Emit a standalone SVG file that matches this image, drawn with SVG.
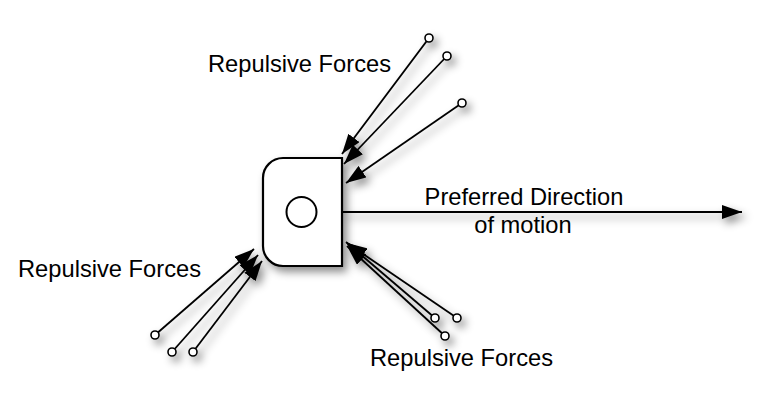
<svg xmlns="http://www.w3.org/2000/svg" width="764" height="404" viewBox="0 0 764 404">
<style>
.lbl{font-family:"Liberation Sans",Arial,sans-serif;font-size:23.7px;fill:#000}
.conn{stroke:#000;stroke-width:1.8;fill:none;marker-end:url(#ah)}
.end{fill:#fff;stroke:#000;stroke-width:1.6}
.box{fill:#fff;stroke:#000;stroke-width:2.2}
</style>
<defs>
<marker id="ah" viewBox="0 0 20 14" refX="20" refY="7" markerWidth="20" markerHeight="14" markerUnits="userSpaceOnUse" orient="auto">
<path d="M0,0 L20,7 L0,14 Z" fill="#000"/>
</marker>
<filter id="sh" x="-20%" y="-20%" width="150%" height="150%">
<feDropShadow dx="4" dy="5" stdDeviation="4" flood-color="#000" flood-opacity="0.45"/>
</filter>
</defs>
<rect width="764" height="404" fill="#fff"/>
<g id="connectors" filter="url(#sh)">
<line class="conn" x1="342" y1="212" x2="742" y2="212"/>
<line class="conn" x1="429" y1="38" x2="342" y2="154"/>
<line class="conn" x1="447" y1="56" x2="344" y2="164"/>
<line class="conn" x1="462" y1="103" x2="346" y2="183"/>
<line class="conn" x1="155" y1="335" x2="254" y2="249"/>
<line class="conn" x1="172" y1="352" x2="258" y2="255"/>
<line class="conn" x1="193" y1="352" x2="262" y2="261"/>
<line class="conn" x1="435" y1="318" x2="346" y2="242"/>
<line class="conn" x1="457" y1="318" x2="347" y2="243"/>
<line class="conn" x1="445" y1="336" x2="347" y2="246"/>
<circle class="end" cx="429" cy="38" r="4"/>
<circle class="end" cx="447" cy="56" r="4"/>
<circle class="end" cx="462" cy="103" r="4"/>
<circle class="end" cx="155" cy="335" r="4"/>
<circle class="end" cx="172" cy="352" r="4"/>
<circle class="end" cx="193" cy="352" r="4"/>
<circle class="end" cx="435" cy="318" r="4"/>
<circle class="end" cx="457" cy="318" r="4"/>
<circle class="end" cx="445" cy="336" r="4"/>
</g>
<g id="robot">
<path class="box" filter="url(#sh)" d="M283,158 H342 V266 H283 A20,20 0 0 1 263,246 V178 A20,20 0 0 1 283,158 Z"/>
<circle cx="301.5" cy="212" r="15" fill="#fff" stroke="#000" stroke-width="2"/>
</g>
<g id="labels">
<text class="lbl" x="208" y="72">Repulsive Forces</text>
<text class="lbl" x="18" y="277">Repulsive Forces</text>
<text class="lbl" x="370" y="366">Repulsive Forces</text>
<text class="lbl" x="524" y="205" text-anchor="middle">Preferred Direction</text>
<text class="lbl" x="523" y="233" text-anchor="middle">of motion</text>
</g>
</svg>
